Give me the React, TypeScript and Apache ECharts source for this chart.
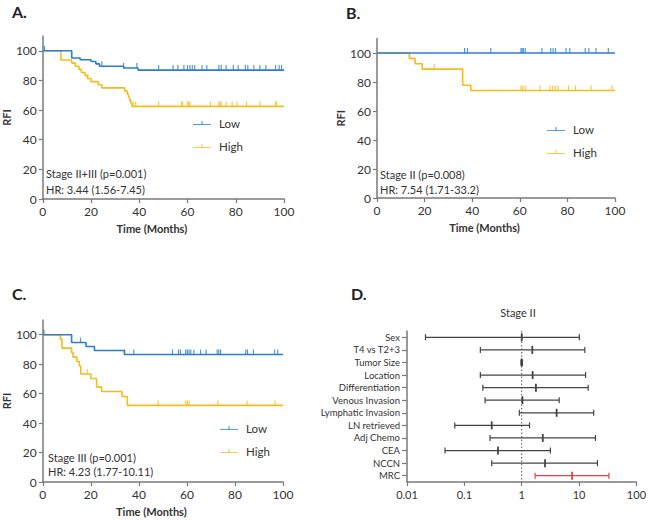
import React, { useEffect, useRef } from 'react';
import * as echarts from 'echarts';

// ---------- Data ----------
const timeTicks = [0, 20, 40, 60, 80, 100];
const rfiTicks = [0, 20, 40, 60, 80, 100];
const groupNames = ['Low', 'High'];

// Panel A: Stage II+III
const aLowT = [0, 12, 15.5, 20, 22, 23.5, 33.5, 39.5];
const aLowS = [100, 95.2, 94.0, 92.8, 91.2, 89.6, 88.4, 87.0];
const aLowCens = [0.7, 24.5, 33.5, 39, 48, 54, 56, 58.5, 60, 61, 62, 63, 66, 68, 73, 74, 76, 79, 81, 84, 85, 87.5, 90, 92.5, 96.5, 98, 99];
const aHighT = [0, 7.5, 12, 13.5, 15, 16, 17.5, 18.5, 20, 23, 24.5, 34, 35, 35.5, 36, 36.5, 37];
const aHighS = [100, 93.8, 91.7, 89.6, 87.5, 85.4, 83.3, 81.3, 79.2, 77.1, 75.0, 72.9, 70.8, 68.8, 66.7, 64.6, 62.5];
const aHighCens = [18.7, 37.5, 38.5, 48, 57.5, 58, 60, 60.5, 61, 69.5, 73, 73.5, 74, 76, 78.5, 80.5, 84.5, 90, 96.5, 97];

// Panel B: Stage II
const bLowT = [0];
const bLowS = [100];
const bLowCens = [36.8, 38, 47.8, 60.5, 61, 61.5, 62.3, 69.3, 73, 74, 75, 79.4, 81, 87.5, 89, 92, 97.2];
const bHighT = [0, 13.6, 16, 19, 36, 39.4];
const bHighS = [100, 96.3, 92.6, 88.9, 77.8, 74.1];
const bHighCens = [24, 60.5, 61.3, 62.3, 68.4, 72.6, 73.7, 74.9, 76.1, 80.5, 83.4, 89.9, 98.7];

// Panel C: Stage III
const cLowT = [0, 12, 18, 21.5, 34];
const cLowS = [100, 94.7, 92.0, 89.3, 86.6];
const cLowCens = [0.5, 15.7, 34, 37.9, 54, 56.5, 57.3, 59.5, 60.2, 60.9, 61.6, 62.9, 65.7, 68, 72.6, 73.3, 74, 84.5, 85.2, 87.7, 96.5, 97.8];
const cHighT = [0, 7.3, 8, 12, 12.6, 14.2, 15.2, 15.8, 20, 22.4, 24.5, 33, 35.2];
const cHighS = [100, 97.0, 90.9, 87.9, 84.8, 81.8, 78.8, 73.3, 70.3, 64.4, 61.5, 58.1, 52.0];
const cHighCens = [18.5, 48.1, 59.5, 60.2, 60.9, 72.9, 85, 96.7];

const panelNotes = [
  ['Stage II+III (p=0.001)', 'HR: 3.44 (1.56-7.45)'],
  ['Stage II (p=0.008)', 'HR: 7.54 (1.71-33.2)'],
  ['Stage III (p=0.001)', 'HR: 4.23 (1.77-10.11)'],
];

// Panel D: forest plot, Stage II
const dLabels = ['Sex', 'T4 vs T2+3', 'Tumor Size', 'Location', 'Differentiation', 'Venous Invasion', 'Lymphatic Invasion', 'LN retrieved', 'Adj Chemo', 'CEA', 'NCCN', 'MRC'];
const dLow = [0.021, 0.19, 0.97, 0.19, 0.21, 0.23, 0.91, 0.068, 0.28, 0.046, 0.30, 1.71];
const dHR = [1.0, 1.53, 1.0, 1.55, 1.77, 1.03, 4.06, 0.30, 2.33, 0.386, 2.55, 7.54];
const dHigh = [10.1, 12.6, 1.03, 13.0, 14.4, 4.5, 18.0, 1.37, 19.3, 3.16, 20.9, 33.2];
const dTitle = 'Stage II';
const highlightRow = 'MRC';

// ---------- Helpers ----------
const stepData = (t: number[], s: number[]) => [...t.map((x, i) => [x, s[i]]), [100, s[s.length - 1]]];
const survAt = (t: number[], s: number[], x: number) => {
  let v = s[0];
  for (let i = 0; i < t.length; i++) if (t[i] <= x) v = s[i];
  return v;
};
const censData = (t: number[], s: number[], c: number[]) => c.map((x) => [x, survAt(t, s, x)]);

const BLUE = '#2a7dcf';
const YELLOW = '#f2bd1d';
const RED = '#e8413f';
const GRAY = '#444444';
const AXIS = '#7a7a7a';
const FONT = 'Lato';

const kmPanels = [
  { low: [aLowT, aLowS, aLowCens], high: [aHighT, aHighS, aHighCens] },
  { low: [bLowT, bLowS, bLowCens], high: [bHighT, bHighS, bHighCens] },
  { low: [cLowT, cLowS, cLowCens], high: [cHighT, cHighS, cHighCens] },
];

const kmGrids = [
  { left: 42, top: 36, width: 242, height: 163 },
  { left: 377, top: 38.5, width: 238, height: 159.5 },
  { left: 41, top: 320, width: 242, height: 162 },
];
const legendPos = [
  { left: 193, top: 117 },
  { left: 547, top: 123 },
  { left: 220, top: 422 },
];
const notePos = [
  { x: 46, y1: 173, y2: 189 },
  { x: 380, y1: 174, y2: 189 },
  { x: 48, y1: 457, y2: 471 },
];
const letters = [
  { t: 'A.', x: 12, y: 3 },
  { t: 'B.', x: 346, y: 4 },
  { t: 'C.', x: 12, y: 285 },
  { t: 'D.', x: 351, y: 285 },
];

const legendIcon = 'path://M0,10 L40,10 L40,12 L0,12 Z M19,3 L21,3 L21,10 L19,10 Z';

export default function App() {
  const ref = useRef<HTMLDivElement>(null);
  useEffect(() => {
    if (!ref.current) return;
    const chart = echarts.init(ref.current, undefined, { renderer: 'svg' });

    const grids: any[] = [...kmGrids, { left: 407, top: 331, width: 232, height: 151 }];
    const xAxes: any[] = [];
    const yAxes: any[] = [];
    const series: any[] = [];
    const legends: any[] = [];
    const graphics: any[] = [];

    kmPanels.forEach((p, i) => {
      xAxes.push({
        type: 'value', gridIndex: i, min: 0, max: 100, interval: 20,
        axisLine: { show: true, lineStyle: { color: AXIS, width: 1.5 } },
        axisTick: { show: true, length: 4, lineStyle: { color: AXIS, width: 1.2 } },
        splitLine: { show: false },
        axisLabel: { fontSize: 12, color: '#333', fontFamily: FONT, margin: 6 },
        name: 'Time (Months)', nameLocation: 'middle', nameGap: 24,
        nameTextStyle: { fontSize: 11, fontWeight: 'bold', color: '#333', fontFamily: FONT, padding: [0, 23, 0, 0] },
      });
      yAxes.push({
        type: 'value', gridIndex: i, min: 0, max: 110,
        axisLine: { show: true, lineStyle: { color: AXIS, width: 1.5 } },
        axisTick: { show: true, length: 4, customValues: rfiTicks, lineStyle: { color: AXIS, width: 1.2 } },
        splitLine: { show: false },
        axisLabel: { fontSize: 12, color: '#333', fontFamily: FONT, customValues: rfiTicks, margin: 6 },
        name: 'RFI', nameLocation: 'middle', nameGap: 30, nameRotate: 90,
        nameTextStyle: { fontSize: 11, fontWeight: 'bold', color: '#333', fontFamily: FONT },
      });
      const groups: [string, any[], string][] = [
        [groupNames[1], p.high, YELLOW],
        [groupNames[0], p.low, BLUE],
      ];
      groups.forEach(([name, g, color]) => {
        const [t, s, c] = g as [number[], number[], number[]];
        series.push({
          type: 'line', name, xAxisIndex: i, yAxisIndex: i, step: 'end',
          data: stepData(t, s), showSymbol: false, symbol: 'none',
          lineStyle: { color, width: 1.6 }, itemStyle: { color }, silent: true,
        });
        series.push({
          type: 'scatter', name, xAxisIndex: i, yAxisIndex: i,
          data: censData(t, s, c), symbol: 'rect', symbolSize: [1.2, 5], symbolOffset: [0, -2.5],
          itemStyle: { color }, silent: true,
        });
      });
      legends.push({
        data: groupNames, orient: 'vertical', left: legendPos[i].left, top: legendPos[i].top,
        icon: legendIcon, itemWidth: 18, itemHeight: 8, itemGap: 11, padding: 0,
        textStyle: { fontSize: 11.5, color: '#333', fontFamily: FONT, padding: [0, 0, 0, 3] },
        selectedMode: false,
      });
      graphics.push(
        { type: 'text', x: notePos[i].x, y: notePos[i].y1, style: { text: panelNotes[i][0], font: `11px ${FONT}`, fill: '#333', verticalAlign: 'middle', textVerticalAlign: 'middle' } },
        { type: 'text', x: notePos[i].x, y: notePos[i].y2, style: { text: panelNotes[i][1], font: `11px ${FONT}`, fill: '#333', verticalAlign: 'middle', textVerticalAlign: 'middle' } },
      );
    });

    // Forest plot axes
    xAxes.push({
      type: 'log', logBase: 10, gridIndex: 3, min: 0.01, max: 100,
      axisLine: { show: true, lineStyle: { color: AXIS, width: 1.5 } },
      axisTick: { show: true, length: 4, lineStyle: { color: AXIS, width: 1.2 } },
      minorTick: { show: false }, splitLine: { show: false },
      axisLabel: { fontSize: 11, color: '#333', fontFamily: FONT, margin: 7, formatter: (v: number) => String(Number(Number(v).toPrecision(2))) },
    });
    yAxes.push({
      type: 'category', gridIndex: 3, data: dLabels, inverse: true,
      axisLine: { show: true, lineStyle: { color: AXIS, width: 1.5 } },
      axisTick: { show: true, alignWithLabel: true, interval: 0, length: 5, lineStyle: { color: AXIS, width: 1.2 } },
      splitLine: { show: false },
      axisLabel: { fontSize: 9.5, color: '#333', fontFamily: FONT, margin: 7, interval: 0 },
    });
    series.push({
      type: 'custom', xAxisIndex: 3, yAxisIndex: 3, silent: true,
      data: dLabels.map((l, i) => [dLow[i], dHR[i], dHigh[i], i]),
      encode: { x: [0, 1, 2], y: 3 },
      renderItem: (params: any, api: any) => {
        const idx = api.value(3);
        const lo = api.coord([api.value(0), idx]);
        const hr = api.coord([api.value(1), idx]);
        const hi = api.coord([api.value(2), idx]);
        const color = dLabels[idx] === highlightRow ? RED : GRAY;
        const st = { stroke: color, lineWidth: 1.2 };
        const children: any[] = [];
        if (params.dataIndex === 0) {
          const cs = params.coordSys;
          const one = api.coord([1, idx])[0];
          children.push({ type: 'line', shape: { x1: one, y1: cs.y, x2: one, y2: cs.y + cs.height }, style: { stroke: '#555', lineWidth: 1, lineDash: [1.5, 2] }, z2: 0 });
        }
        children.push(
          { type: 'line', shape: { x1: lo[0], y1: lo[1], x2: hi[0], y2: hi[1] }, style: st },
          { type: 'line', shape: { x1: lo[0], y1: lo[1] - 3, x2: lo[0], y2: lo[1] + 3 }, style: st },
          { type: 'line', shape: { x1: hi[0], y1: hi[1] - 3, x2: hi[0], y2: hi[1] + 3 }, style: st },
          { type: 'line', shape: { x1: hr[0], y1: hr[1] - 4, x2: hr[0], y2: hr[1] + 4 }, style: { stroke: color, lineWidth: 1.8 } },
        );
        return { type: 'group', children };
      },
    });

    graphics.push({ type: 'text', x: 518, y: 312, style: { text: dTitle, font: `11px ${FONT}`, fill: '#333', align: 'center', textAlign: 'center', verticalAlign: 'middle', textVerticalAlign: 'middle' } });
    letters.forEach((l) => {
      graphics.push({ type: 'text', x: l.x, y: l.y, style: { text: l.t, font: `bold 16px ${FONT}`, fill: '#222', verticalAlign: 'top', textVerticalAlign: 'top' } });
    });

    chart.setOption({
      animation: false,
      textStyle: { fontFamily: FONT },
      grid: grids,
      xAxis: xAxes,
      yAxis: yAxes,
      legend: legends,
      series,
      graphic: graphics,
    });
    return () => chart.dispose();
  }, []);
  return <div ref={ref} style={{ position: 'fixed', left: 0, top: 0, width: 649, height: 521, background: '#fff' }} />;
}
